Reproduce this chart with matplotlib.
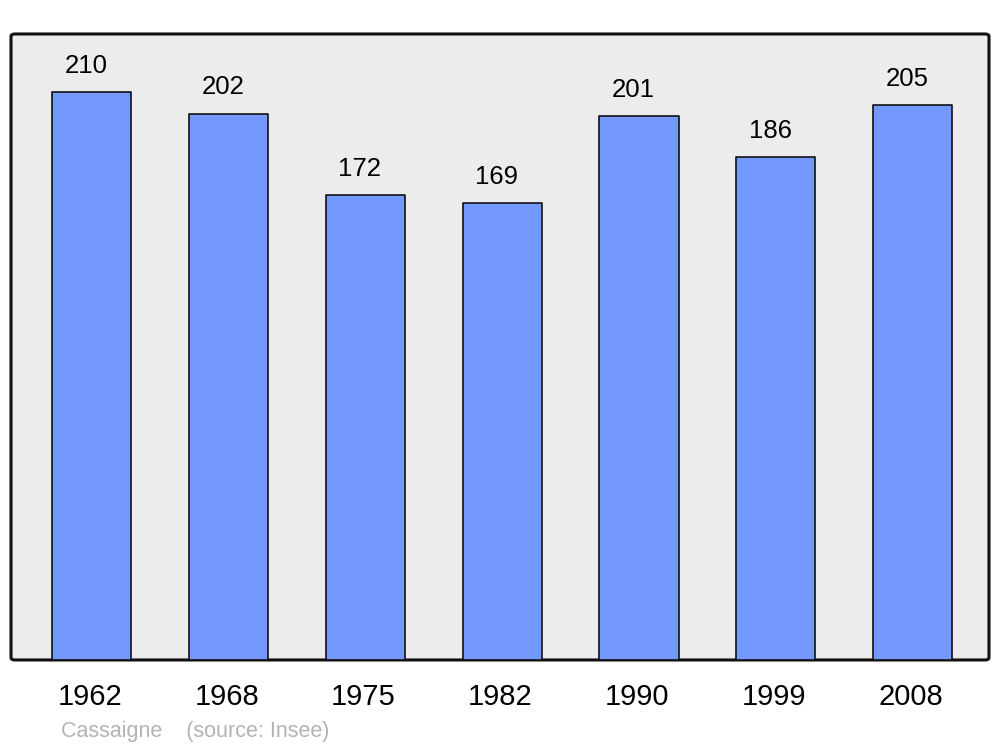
import matplotlib
matplotlib.use('Agg')
import matplotlib.pyplot as plt
from matplotlib.patches import FancyBboxPatch

years = ['1962', '1968', '1975', '1982', '1990', '1999', '2008']
population = [210, 202, 172, 169, 201, 186, 205]

plt.rcParams['font.family'] = ['Liberation Sans', 'DejaVu Sans']

fig = plt.figure(figsize=(10, 7.47), dpi=100)
ax = fig.add_axes([0.011, 0.1165, 0.978, 0.838])

# rounded frame instead of plain spines
ax.patch.set_visible(False)
for s in ax.spines.values():
    s.set_visible(False)
frame = FancyBboxPatch((0, 0), 1, 1, boxstyle='round,pad=0,rounding_size=0.004',
                       transform=ax.transAxes, facecolor='#ececec',
                       edgecolor='#111111', linewidth=2.2, zorder=0, clip_on=False)
ax.add_patch(frame)

x = list(range(len(years)))
bars = ax.bar(x, population, width=0.578, color='#7399ff',
              edgecolor='#111111', linewidth=1.2, zorder=2)
for b in bars:
    b.set_joinstyle('round')

for xi, v in zip(x, population):
    ax.annotate(str(v), xy=(xi, v), xytext=(-4, 13.7), textcoords='offset points',
                ha='center', va='baseline', fontsize=18.5, color='black')

for xi, yr in zip(x, years):
    ax.annotate(yr, xy=(xi, 0), xycoords=('data', 'axes fraction'),
                xytext=(-1.5, -32.4), textcoords='offset points',
                ha='center', va='baseline', fontsize=21, color='black')

ax.set_xlim(-0.592, 6.559)
ax.set_ylim(0, 231.4)
ax.set_xticks([])
ax.set_yticks([])

fig.text(0.061, 1 - 737 / 747, 'Cassaigne    (source: Insee)', color='#b3b3b3',
         fontsize=15.5, ha='left', va='baseline')

fig.savefig('out.png', dpi=100)
